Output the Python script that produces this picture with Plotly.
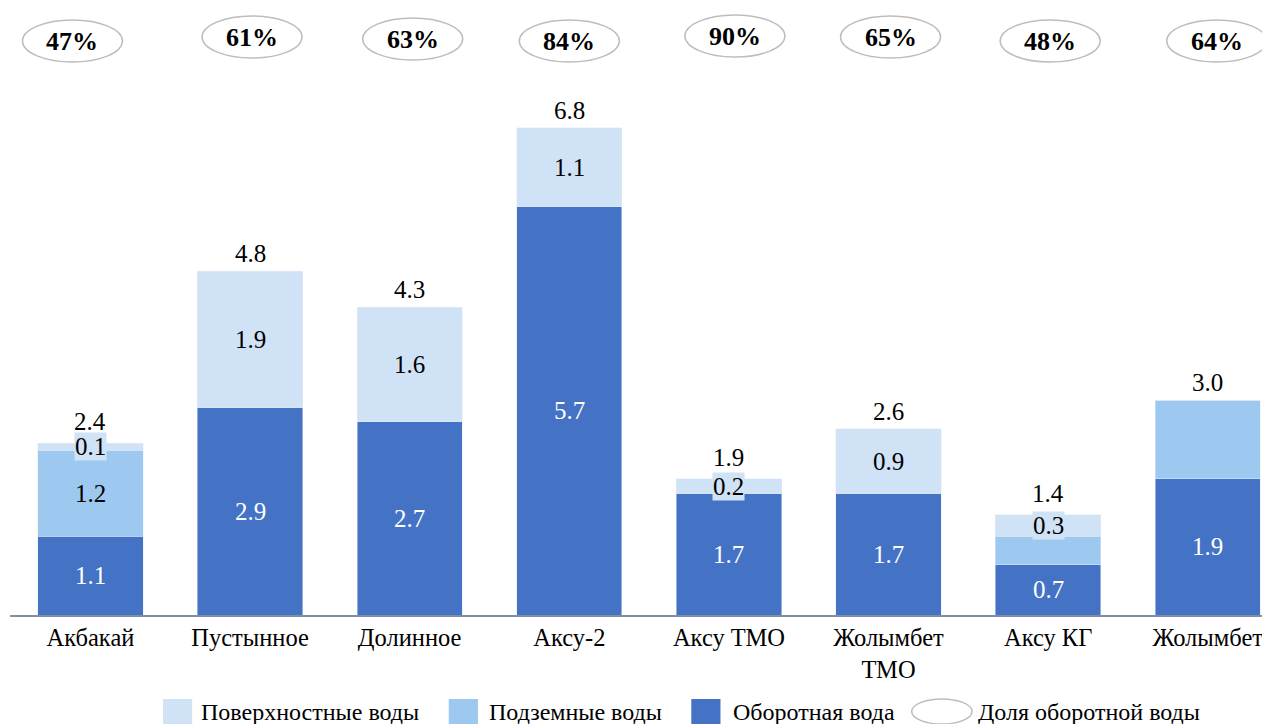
import plotly.graph_objects as go

categories = ["Акбакай", "Пустынное", "Долинное", "Аксу-2", "Аксу ТМО", "Жолымбет<br>ТМО", "Аксу КГ", "Жолымбет"]
recycled = [1.1, 2.9, 2.7, 5.7, 1.7, 1.7, 0.7, 1.9]
ground = [1.2, 0.0, 0.0, 0.0, 0.0, 0.0, 0.4, 1.1]
surface = [0.1, 1.9, 1.6, 1.1, 0.2, 0.9, 0.3, 0.0]
totals = [2.4, 4.8, 4.3, 6.8, 1.9, 2.6, 1.4, 3.0]
share_pct = [47, 61, 63, 84, 90, 65, 48, 64]
ground_labelled = [True, False, False, False, False, False, False, False]
surface_labelled = [True, True, True, True, True, True, True, False]
legend_names = ["Поверхностные воды", "Подземные воды", "Оборотная вода", "Доля оборотной воды"]

C_DARK = "#4472C4"
C_MID = "#9DC8F0"
C_LIGHT = "#CFE2F6"
FONT = "Liberation Serif, Times New Roman, serif"
SZ_VAL = 25
SZ_CAT = 24.5
SZ_LEG = 24
SZ_PCT = 26

PLOT_L, PLOT_W = 10, 1260
PLOT_BOTTOM, PLOT_H = 615, 573
def px_x(X):
    return (X - PLOT_L) / PLOT_W
def px_y(Y):
    return (PLOT_BOTTOM - Y) / PLOT_H

ellipse_dx = [-18, 2, 3, 0, 6, 2, 2, 9]
ellipse_cy = [41, 37, 39, 41, 36, 37, 41, 41]

x = list(range(len(categories)))
fig = go.Figure()
fig.add_trace(go.Bar(x=x, y=recycled, name=legend_names[2], marker_color=C_DARK, hoverinfo="skip"))
fig.add_trace(go.Bar(x=x, y=ground, name=legend_names[1], marker_color=C_MID, hoverinfo="skip"))
fig.add_trace(go.Bar(x=x, y=surface, name=legend_names[0], marker_color=C_LIGHT, hoverinfo="skip"))

ann = []
shapes = []
for i in x:
    ann.append(dict(x=i, y=recycled[i] / 2, text=f"{recycled[i]:.1f}", showarrow=False,
                    font=dict(family=FONT, size=SZ_VAL, color="white")))
    if ground_labelled[i]:
        ann.append(dict(x=i, y=recycled[i] + ground[i] / 2, text=f"{ground[i]:.1f}",
                        showarrow=False, font=dict(family=FONT, size=SZ_VAL, color="black")))
    if surface_labelled[i]:
        small = surface[i] < 0.5
        ann.append(dict(x=i, y=recycled[i] + ground[i] + surface[i] / 2, text=f"{surface[i]:.1f}",
                        showarrow=False, font=dict(family=FONT, size=SZ_VAL, color="black"),
                        bgcolor=C_LIGHT if small else None, borderpad=0))
    ann.append(dict(x=i, y=totals[i], text=f"{totals[i]:.1f}", showarrow=False, yanchor="bottom",
                    yshift=2 if surface[i] >= 0.5 or not surface_labelled[i] else 6,
                    font=dict(family=FONT, size=SZ_VAL, color="black")))
    cy = px_y(ellipse_cy[i])
    shapes.append(dict(type="circle", xref="x", yref="paper", xsizemode="pixel", ysizemode="pixel",
                       xanchor=i, yanchor=cy, x0=ellipse_dx[i] - 50, x1=ellipse_dx[i] + 50,
                       y0=-21, y1=21, line=dict(color="#BDBDBD", width=1.5), fillcolor="white"))
    ann.append(dict(x=i, y=cy, xref="x", yref="paper", xshift=ellipse_dx[i], yanchor="middle",
                    text=f"<b>{share_pct[i]}%</b>", showarrow=False,
                    font=dict(family=FONT, size=SZ_PCT, color="black")))

sw_colors = [C_LIGHT, C_MID, C_DARK]
sw_x = [162, 446, 687]
txt_x = [198, 484, 726]
for c, sx, tx, name in zip(sw_colors, sw_x, txt_x, legend_names[:3]):
    shapes.append(dict(type="rect", xref="paper", yref="paper", x0=px_x(sx), x1=px_x(sx + 29),
                       y0=px_y(724), y1=px_y(699), fillcolor=c, line=dict(width=0)))
    ann.append(dict(x=px_x(tx), y=px_y(712), xref="paper", yref="paper", xanchor="left",
                    yanchor="middle", text=name, showarrow=False,
                    font=dict(family=FONT, size=SZ_LEG, color="black")))
shapes.append(dict(type="circle", xref="paper", yref="paper", x0=px_x(906), x1=px_x(966),
                   y0=px_y(724), y1=px_y(699), line=dict(color="#BDBDBD", width=1.5),
                   fillcolor="white"))
ann.append(dict(x=px_x(970), y=px_y(712), xref="paper", yref="paper", xanchor="left",
                yanchor="middle", text=legend_names[3], showarrow=False,
                font=dict(family=FONT, size=SZ_LEG, color="black")))

OFF = 8
fig.update_layout(
    width=1270, height=724,
    margin=dict(l=PLOT_L - OFF, r=1270 - OFF - (PLOT_L - OFF) - PLOT_W,
                t=PLOT_BOTTOM - PLOT_H - OFF, b=724 - (PLOT_BOTTOM - OFF)),
    barmode="stack", bargap=0.34,
    plot_bgcolor="white", paper_bgcolor="white",
    font=dict(family=FONT, size=SZ_CAT, color="black"),
    annotations=ann, shapes=shapes,
    showlegend=False,
    xaxis=dict(tickmode="array", tickvals=x, ticktext=categories, range=[-0.504, 7.44],
               showgrid=False, zeroline=False, showline=True, linecolor="#7F8FA6", linewidth=2,
               ticks="", ticklabelstandoff=0, tickfont=dict(family=FONT, size=SZ_CAT, color="black")),
    yaxis=dict(range=[0, 8.0], visible=False, showgrid=False, zeroline=False),
)
fig.write_html("out.html")
